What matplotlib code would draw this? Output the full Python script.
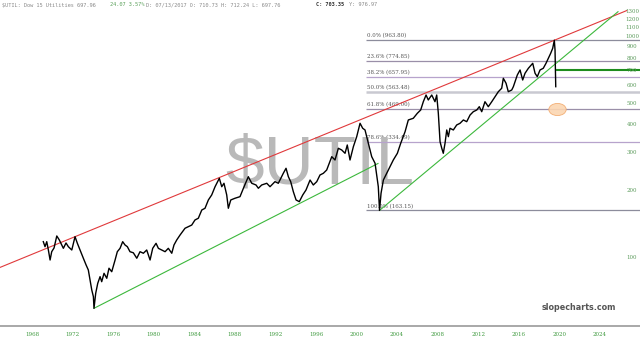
import numpy as np
import matplotlib
matplotlib.use('Agg')
import matplotlib.pyplot as plt
import matplotlib.transforms as mtransforms
from matplotlib.path import Path
from matplotlib.transforms import Affine2D
from matplotlib.ticker import NullLocator

# price series (decimal year, index level)
years = [1969.11, 1969.28, 1969.45, 1969.61, 1969.78, 1969.94, 1970.17, 1970.44, 1970.69, 1970.93,
         1971.09, 1971.35, 1971.58, 1971.92, 1972.24, 1972.47, 1972.73, 1973.06, 1973.33, 1973.55,
         1973.72, 1973.89, 1974.05, 1974.11, 1974.28, 1974.48, 1974.71, 1974.87, 1975.10, 1975.37,
         1975.59, 1975.86, 1976.19, 1976.41, 1976.68, 1976.94, 1977.17, 1977.40, 1977.66, 1977.99,
         1978.33, 1978.65, 1978.98, 1979.31, 1979.64, 1979.90, 1980.23, 1980.46, 1980.79, 1981.12,
         1981.44, 1981.78, 1982.00, 1982.27, 1982.60, 1983.09, 1983.41, 1983.75, 1984.07, 1984.40,
         1984.74, 1985.06, 1985.39, 1985.72, 1986.05, 1986.47, 1986.71, 1986.93, 1987.20, 1987.36,
         1987.60, 1988.02, 1988.51, 1988.91, 1989.33, 1989.67, 1990.09, 1990.32, 1990.65, 1991.15,
         1991.47, 1991.96, 1992.29, 1992.78, 1993.05, 1993.28, 1993.51, 1993.77, 1994.04, 1994.36,
         1994.70, 1995.02, 1995.42, 1995.74, 1996.08, 1996.40, 1996.73, 1997.06, 1997.56, 1997.88,
         1998.21, 1998.54, 1998.87, 1999.09, 1999.36, 1999.69, 2000.02, 2000.35, 2000.61, 2000.84,
         2001.17, 2001.50, 2001.83, 2002.15, 2002.27, 2002.42, 2002.65, 2002.98, 2003.31, 2003.63,
         2004.03, 2004.36, 2004.79, 2005.11, 2005.60, 2006.00, 2006.33, 2006.59, 2006.86, 2007.08,
         2007.42, 2007.74, 2007.91, 2008.07, 2008.24, 2008.41, 2008.56, 2008.73, 2008.90, 2009.06,
         2009.22, 2009.55, 2009.88, 2010.21, 2010.54, 2010.87, 2011.20, 2011.52, 2011.86, 2012.11,
         2012.35, 2012.67, 2013.00, 2013.34, 2013.66, 2013.99, 2014.32, 2014.48, 2014.75, 2014.97,
         2015.31, 2015.47, 2015.86, 2016.13, 2016.39, 2016.62, 2016.95, 2017.38, 2017.61, 2017.83,
         2018.10, 2018.42, 2018.69, 2018.92, 2019.15, 2019.35, 2019.51, 2019.58, 2019.65]
close = [117.7, 111.7, 117.7, 107.9, 97.2, 106.0, 110.2, 124.9, 119.8, 113.7,
         109.8, 116.1, 111.7, 107.9, 124.0, 115.7, 107.9, 99.0, 92.3, 87.6,
         78.9, 71.1, 66.3, 58.7, 68.7, 76.2, 81.7, 77.5, 84.6, 80.3,
         89.2, 86.0, 97.2, 106.0, 109.8, 117.7, 113.7, 111.7, 106.0, 104.8,
         99.0, 106.0, 104.3, 107.9, 97.2, 109.8, 115.7, 109.8, 107.9, 106.0,
         109.8, 104.3, 113.7, 119.8, 126.2, 135.4, 137.6, 140.0, 147.6, 150.3,
         163.8, 166.8, 181.9, 191.7, 208.9, 228.1, 208.9, 216.5, 191.7, 166.8,
         181.9, 185.2, 188.3, 208.9, 231.9, 216.5, 212.7, 205.5, 212.7, 216.5,
         208.9, 220.2, 216.5, 240.3, 253.2, 231.9, 220.2, 198.3, 181.9, 178.7,
         191.7, 201.9, 224.0, 212.7, 220.2, 236.1, 240.3, 248.7, 285.8, 276.1,
         312.0, 306.5, 296.1, 322.9, 276.1, 317.2, 352.2, 405.0, 384.5, 377.7,
         328.7, 285.8, 266.8, 208.9, 163.15, 195.0, 224.0, 240.3, 257.5, 276.1,
         296.1, 328.7, 371.0, 419.3, 426.7, 449.6, 465.3, 507.4, 544.1, 516.6,
         544.1, 507.4, 544.1, 449.6, 334.2, 312.0, 296.1, 328.7, 377.7, 352.2,
         384.5, 377.7, 397.9, 405.0, 419.3, 411.9, 441.6, 457.1, 465.3, 481.7,
         457.1, 507.4, 481.7, 507.4, 534.6, 563.3, 583.7, 647.8, 614.9, 563.3,
         573.4, 593.5, 670.6, 706.5, 636.4, 682.6, 719.2, 757.6, 682.6, 658.8,
         706.5, 719.2, 757.6, 798.2, 840.9, 885.9, 963.8, 870.3, 593.5]

last_close = 703.35

# fibonacci retracement levels
fib_pcts = ['0.0%', '23.6%', '38.2%', '50.0%', '61.8%', '78.6%', '100.0%']
fib_levels = [963.80, 774.85, 657.95, 563.48, 469.00, 334.49, 163.15]
fib_start = 2000.94

# trend lines: two anchor points each (year, level) and the span they are drawn over
red_anchor = [(1972.24, 124.0), (2019.51, 963.8)]
red_span = (1964.84, 2026.65)
green1_anchor = [(1974.11, 58.7), (2002.12, 266.2)]
green1_span = (1974.11, 2002.12)
green2_anchor = [(2002.27, 163.15), (2025.79, 1298.0)]
green2_span = (2002.27, 2025.79)

xtick_years = list(range(1968, 2025, 4))
ytick_vals = [100, 200, 300, 400, 500, 600, 700, 800, 900, 1000, 1100, 1200, 1300]

header = ['$UTIL: Dow 15 Utilities 697.96', '24.07 3.57%',
          'D: 07/13/2017 O: 710.73 H: 712.24 L: 697.76', 'C: 703.35', 'Y: 976.97']


def trend(anchor, span):
    (x0, v0), (x1, v1) = anchor
    k = (np.log10(v1) - np.log10(v0)) / (x1 - x0)
    xs = np.array(span)
    return xs, 10 ** (np.log10(v0) + k * (xs - x0))


fig = plt.figure(figsize=(6.4, 3.42), dpi=100)
ax = fig.add_axes([0, 16 / 342, 1, 326 / 342])
ax.set_yscale('log')
ax.set_xlim(1964.84, 2027.96)
ax.set_ylim(48.8, 1467)

# fib lines
fib_colors = ['#8c8c9c', '#9a8fa8', '#b7a3cc', '#c9c9d1', '#9a8fa8', '#b7a3cc', '#8c8c9c']
fib_widths = [0.9, 0.9, 0.9, 1.8, 0.9, 0.9, 0.9]
for pct, lvl, c, w in zip(fib_pcts, fib_levels, fib_colors, fib_widths):
    ax.hlines(lvl, fib_start, 2027.96, color=c, lw=w, zorder=2)
    ax.text(fib_start + 0.1, lvl * 1.018, '%s (%.2f)' % (pct, lvl), fontsize=4.0,
            family='DejaVu Serif', color='#555555', va='bottom', ha='left', zorder=1)

# watermark, drawn over the fib labels like in the original
ax.text(1996.4, 262, '$UTIL', fontsize=50, family='Liberation Sans', color='#b9b9b9',
        ha='center', va='center', zorder=1.5)

# trend lines
xs, vs = trend(red_anchor, red_span)
ax.plot(xs, vs, color='#e0393b', lw=0.8, zorder=2)
xs, vs = trend(green1_anchor, green1_span)
ax.plot(xs, vs, color='#3cb83c', lw=0.8, zorder=2)
xs, vs = trend(green2_anchor, green2_span)
ax.plot(xs, vs, color='#3cb83c', lw=0.8, zorder=2)

# price
ax.plot(years, close, color='black', lw=1.0, zorder=3)
ax.hlines(last_close, years[-1], 2027.96, color='#1e8c1e', lw=1.5, zorder=3)

# target ellipse
ell = Path.unit_circle().transformed(Affine2D().scale(1, 0.7))
ax.plot([2019.75], [fib_levels[4]], marker=ell, ms=12.5, mfc='#fbd6b2', mec='#f2a86a',
        mew=0.6, alpha=0.9, zorder=4)

# axes styling
for s in ['top', 'left', 'right']:
    ax.spines[s].set_visible(False)
ax.spines['bottom'].set_color('#9a9a9a')
ax.spines['bottom'].set_linewidth(1.2)
ax.set_xticks(xtick_years)
ax.set_xticklabels([str(y) for y in xtick_years], family='DejaVu Serif')
ax.tick_params(axis='x', length=0, pad=4, labelsize=4, labelcolor='#3f9a3f')
ax.set_yticks([])
ax.yaxis.set_minor_locator(NullLocator())

trans = mtransforms.blended_transform_factory(ax.transAxes, ax.transData)
for v in ytick_vals:
    ax.text(632 / 640, v, str(v), transform=trans, ha='center', va='center',
            fontsize=4, family='DejaVu Serif', color='#5a9a5a')

# header line
hx = [2, 110, 146, 316, 349]
hc = ['#8a8a8a', '#5aa05a', '#8a8a8a', '#333333', '#8a8a8a']
hw = ['normal', 'normal', 'normal', 'bold', 'normal']
for t, x, c, w in zip(header, hx, hc, hw):
    fig.text(x / 640, 1 - 5 / 342, t, fontsize=3.8, family='DejaVu Sans Mono', color=c,
             weight=w, ha='left', va='center')

fig.text(579 / 640, 1 - 307 / 342, 'slopecharts.com', fontsize=5.8, weight='bold',
         color='#555555', ha='center', va='center')

fig.savefig('out.png', dpi=100)
